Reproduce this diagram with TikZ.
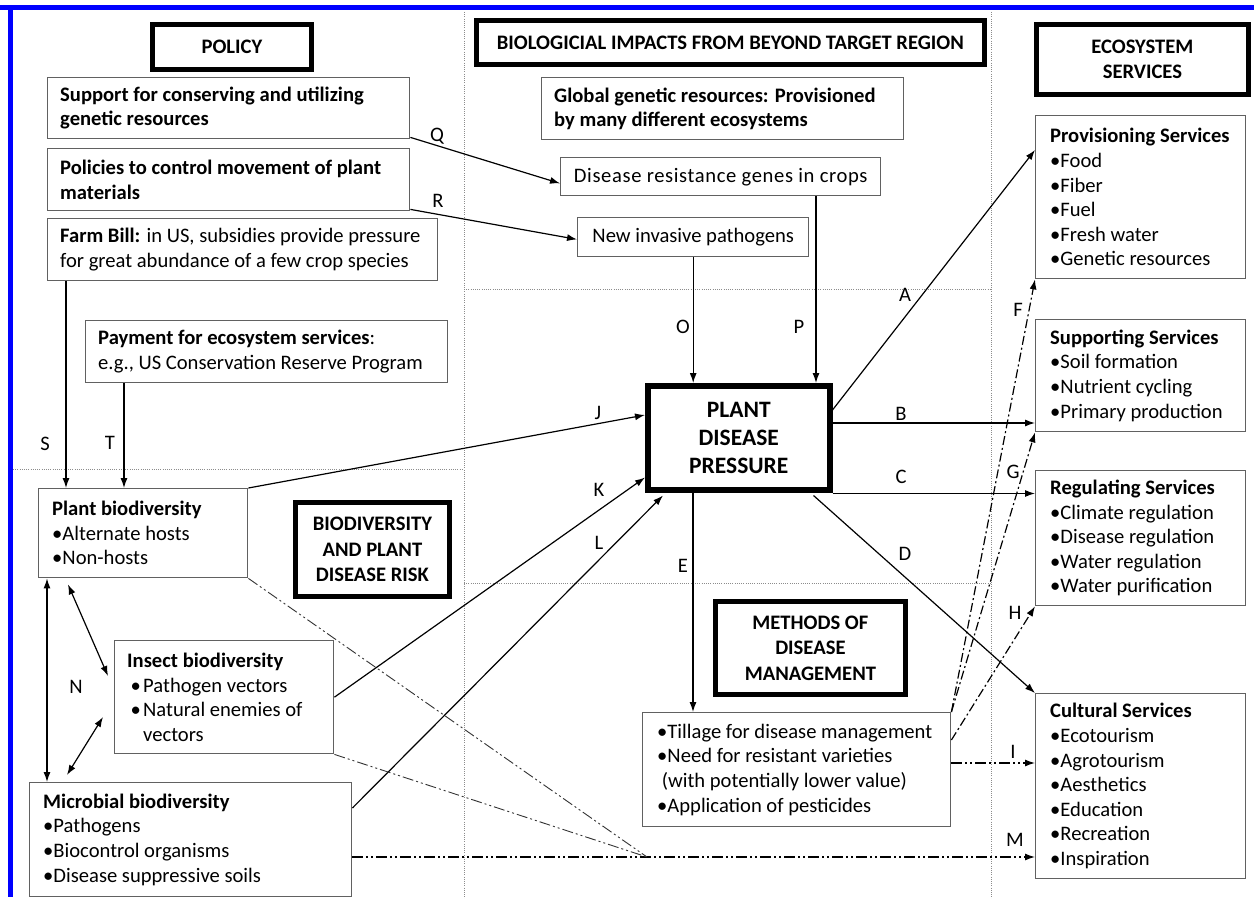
\documentclass[tikz,border=0pt]{standalone}
\usepackage{fontspec}
\setmainfont{Carlito}
\usetikzlibrary{arrows.meta,calc}
\tikzset{
  bx/.style={draw=black!62, line width=1.4pt, anchor=north west, inner sep=0pt},
  txt/.style={align=left, inner sep=0pt, anchor=west, font=\fontsize{20.6}{24.6}\selectfont},
  ctxt/.style={bx, align=center, font=\fontsize{20.6}{24.6}\selectfont},
  hd/.style={draw=black, line width=4.8pt, anchor=north west, inner sep=0pt, align=center, font=\fontsize{20.6}{25.5}\selectfont\bfseries},
  ar/.style={line width=1.2pt, -{Latex[length=10pt,width=7pt]}},
  dar/.style={line width=1.2pt, {Latex[length=10pt,width=7pt]}-{Latex[length=10pt,width=7pt]}},
  lbl/.style={inner sep=0pt, font=\fontsize{20.6}{24}\selectfont},
  dda/.style={dash pattern=on 9pt off 3pt on 2pt off 3pt},
  ddb/.style={dash pattern=on 11pt off 3pt on 2pt off 3pt on 2pt off 3pt},
  sep/.style={draw=black!45, line width=1pt, dash pattern=on 1pt off 1.2pt},
}
\newcommand\tbox[7]{%
  \node[bx, minimum width=#4pt, minimum height=#5pt] (#1) at (#2,#3) {};
  \node[txt] (#1-t) at ($(#1.west)+(#6,0)$) {#7};}
\begin{document}
\begin{tikzpicture}[x=1pt,y=-1pt]
\useasboundingbox (0,0) rectangle (1254,899);
\fill[white] (0,0) rectangle (1254,899);
% blue frame
\fill[blue] (0,5) rectangle (1254,10);
\fill[blue] (8,5) rectangle (13,897);
% separators
\draw[sep] (464,12) -- (464,899);
\draw[sep] (991,12) -- (991,899);
\draw[sep] (13,469) -- (464,469);
\draw[sep] (464,289) -- (991,289);
\draw[sep] (464,583) -- (991,583);

% headers
\node[hd, minimum width=159pt, minimum height=45pt] (policy) at (150,22) {POLICY};
\node[hd, minimum width=508pt, minimum height=44pt] (bioh) at (474,18) {BIOLOGICIAL IMPACTS FROM BEYOND TARGET REGION};
\node[hd, minimum width=212pt, minimum height=70pt] (ecoh) at (1034,22) {ECOSYSTEM\\SERVICES};
\node[hd, minimum width=154pt, minimum height=94pt] (bdh) at (293,500) {BIODIVERSITY\\AND PLANT\\DISEASE RISK};
\node[hd, minimum width=190pt, minimum height=93pt] (mthh) at (713,599) {METHODS OF\\DISEASE\\MANAGEMENT};
\node[hd, line width=5.5pt, minimum width=182pt, minimum height=104pt, font=\fontsize{23.5}{28}\selectfont\bfseries] (pdp) at (645,383) {PLANT\\DISEASE\\PRESSURE};

% policy boxes
\tbox{sup}{47}{77}{362}{61}{13}{\textbf{Support for conserving and utilizing}\\\textbf{genetic resources}}
\tbox{pol}{47}{148}{362}{62}{13}{\textbf{Policies to control movement of plant}\\\textbf{materials}}
\tbox{farm}{47}{218}{390}{62}{13}{\textbf{Farm Bill:} in US, subsidies provide pressure\\for great abundance of a few crop species}
\tbox{pay}{85}{320}{362}{62}{13}{\textbf{Payment for ecosystem services}:\\e.g., US Conservation Reserve Program}

% biological impacts
\tbox{glob}{541}{77}{362}{62}{13}{\textbf{Global genetic resources: Provisioned}\\\textbf{by many different ecosystems}}
\node[ctxt, minimum width=320pt, minimum height=38pt] (drg) at (560,157) {\addfontfeature{LetterSpace=3}Disease resistance genes in crops};
\node[ctxt, minimum width=231pt, minimum height=39pt] (nip) at (577,217) {New invasive pathogens};

% biodiversity
\tbox{plant}{38}{488}{209}{89}{14}{\textbf{Plant biodiversity}\\\textbullet Alternate hosts\\\textbullet Non-hosts}
\tbox{ins}{114}{640}{219}{113}{13}{\textbf{Insect biodiversity}\\\makebox[16pt][l]{\,\textbullet}Pathogen vectors\\\makebox[16pt][l]{\,\textbullet}Natural enemies of\\\hspace*{16pt}vectors}
\tbox{mic}{29}{782}{322}{114}{14}{\textbf{Microbial biodiversity}\\\textbullet Pathogens\\\textbullet Biocontrol organisms\\\textbullet Disease suppressive soils}

% methods
\tbox{mth}{642}{712}{308}{114}{15}{\textbullet Tillage for disease management\\\textbullet Need for resistant varieties\\\ (with potentially lower value)\\\textbullet Application of pesticides}

% ecosystem services
\tbox{prov}{1035}{115}{210}{163}{15}{\textbf{Provisioning Services}\\\textbullet Food\\\textbullet Fiber\\\textbullet Fuel\\\textbullet Fresh water\\\textbullet Genetic resources}
\tbox{supp}{1035}{319}{210}{112}{15}{\textbf{Supporting Services}\\\textbullet Soil formation\\\textbullet Nutrient cycling\\\textbullet Primary production}
\tbox{reg}{1035}{470}{210}{135}{15}{\textbf{Regulating Services}\\\textbullet Climate regulation\\\textbullet Disease regulation\\\textbullet Water regulation\\\textbullet Water purification}
\tbox{cult}{1035}{693}{210}{185}{15}{\textbf{Cultural Services}\\\textbullet Ecotourism\\\textbullet Agrotourism\\\textbullet Aesthetics\\\textbullet Education\\\textbullet Recreation\\\textbullet Inspiration}

% connectors: policy / impacts
\draw[ar] ($(sup.south east)+(0,-2)$) -- ($(drg.south west)+(0,-13)$);
\draw[ar] ($(pol.south east)+(0,-2)$) -- ($(nip.south west)+(0,-18)$);
\draw[ar] (nip.south) -- (nip.south |- pdp.north);
\coordinate (p0) at ($(drg.south west)+(256,0)$);
\draw[ar] (p0) -- (p0 |- pdp.north);
\coordinate (s0) at ($(farm.south west)+(19,0)$);
\draw[ar] (s0) -- (s0 |- plant.north);
\coordinate (t0) at ($(pay.south west)+(39,0)$);
\draw[ar] (t0) -- (t0 |- plant.north);

% biodiversity -> pressure
\draw[ar] (plant.north east) -- ($(pdp.north west)+(0,32)$);
\draw[ar] (ins.east) -- ($(pdp.south west)+(0,-15)$);
\draw[ar] ($(mic.north east)+(0,26)$) -- ($(pdp.south west)+(18,3)$);
\draw[ar] ($(pdp.south west)+(48,0)$) -- ($(mth.north west)+(51,0)$);

% pressure -> services
\draw[ar] ($(pdp.north east)+(0,27)$) -- ($(prov.north west)+(0,35)$);
\coordinate (b0) at ($(pdp.north east)+(0,40)$);
\draw[ar] (b0) -- (b0 -| supp.west);
\coordinate (c0) at ($(pdp.south east)+(0,1)$);
\draw[ar] (c0) -- (c0 -| reg.west);
\draw[ar] ($(pdp.south east)+(-19,3)$) -- (cult.north west);

% management -> services
\draw[ar, dda] (mth.north east) -- (prov.south west);
\draw[ar, dda] (mth.north east) -- (supp.south west);
\draw[ar, dda] ($(mth.north east)+(0,28)$) -- (reg.south west);
\coordinate (i0) at ($(mth.north east)+(0,51)$);
\draw[ar, ddb] (i0) -- (i0 -| cult.west);

% biodiversity -> cultural
\coordinate (m0) at ($(mic.north east)+(0,75)$);
\draw[ar, ddb] (m0) -- (m0 -| cult.west);
\coordinate (mrg) at (647,857);
\draw[ddb, line width=0.9pt, black!80] (plant.south east) -- (mrg);
\draw[ddb, line width=0.9pt, black!80] (ins.south east) -- (mrg);

% interactions
\coordinate (n0) at ($(plant.south west)+(9,0)$);
\draw[dar] (n0) -- (n0 |- mic.north);
\draw[dar] ($(plant.south west)+(30,6)$) -- ($(ins.north west)+(-6,36)$);
\draw[dar] ($(ins.north west)+(-11,77)$) -- ($(mic.north west)+(38,-7)$);

% labels
\node[lbl] (lQ) at (437,136) {Q};
\node[lbl] (lR) at (438,201) {R};
\node[lbl] (lO) at (683,327) {O};
\node[lbl] (lP) at (799,327) {P};
\node[lbl] (lS) at (45,444) {S};
\node[lbl] (lT) at (110,443) {T};
\node[lbl] (lJ) at (598,413) {J};
\node[lbl] (lK) at (599,490) {K};
\node[lbl] (lL) at (599,543) {L};
\node[lbl] (lE) at (683,566) {E};
\node[lbl] (lA) at (905,295) {A};
\node[lbl] (lB) at (901,414) {B};
\node[lbl] (lC) at (901,477) {C};
\node[lbl] (lD) at (905,554) {D};
\node[lbl] (lF) at (1018,310) {F};
\node[lbl] (lG) at (1013,472) {G};
\node[lbl] (lH) at (1015,613) {H};
\node[lbl] (lI) at (1013,752) {I};
\node[lbl] (lM) at (1015,840) {M};
\node[lbl] (lN) at (76,687) {N};
\end{tikzpicture}
\end{document}
